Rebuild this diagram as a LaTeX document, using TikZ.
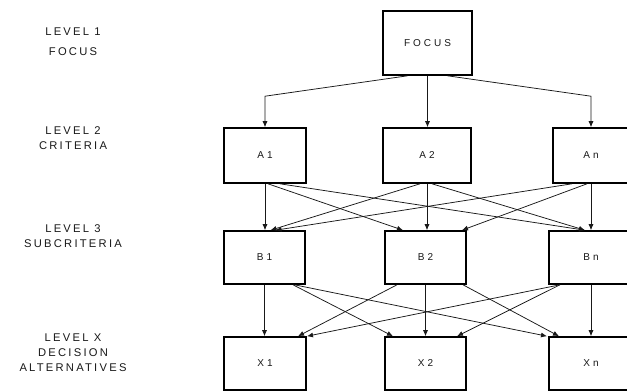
\documentclass[tikz,border=0pt]{standalone}
\usepackage{fontspec}
\setmainfont{Liberation Sans}
\newfontfamily\spacedlab[LetterSpace=20]{Liberation Sans}
\newfontfamily\spacedbox[LetterSpace=30]{Liberation Sans}
\usetikzlibrary{arrows.meta}
\begin{document}
\begin{tikzpicture}[x=1pt,y=-1pt,
  box/.style={draw=black, line width=1.6pt, minimum height=55pt, inner sep=0pt,
              font=\spacedbox\fontsize{10}{10}\selectfont, text=black!90},
  lab/.style={font=\spacedlab\fontsize{11.2}{15}\selectfont, align=center, text=black!90},
  arr/.style={-{Latex[length=6pt,width=5pt]}, line width=0.75pt, draw=black!90}]
\useasboundingbox[fill=white] (0,0) rectangle (627,391);

% left labels
\node[lab] (l1) at (73,42) {LEVEL 1\\[5pt]FOCUS};
\node[lab] (l2) at (73,138.5) {LEVEL 2\\CRITERIA};
\node[lab] (l3) at (73,236.5) {LEVEL 3\\SUBCRITERIA};
\node[lab] (lx) at (73,352.5) {LEVEL X\\DECISION\\ALTERNATIVES};

% boxes
\node[box, minimum width=89pt, minimum height=64pt] (F) at (427.5,43) {FOCUS};

\node[box, minimum width=82pt] (A1) at (265,155.5) {A1};
\node[box, minimum width=88pt] (A2) at (427,155.5) {A2};
\node[box, minimum width=76pt] (An) at (591,155.5) {An};

\node[box, minimum width=81pt, minimum height=53pt] (B1) at (264.5,257.5) {B1};
\node[box, minimum width=81pt, minimum height=53pt] (B2) at (425.5,257.5) {B2};
\node[box, minimum width=84pt, minimum height=53pt] (Bn) at (591,257.5) {Bn};

\node[box, minimum width=82pt, minimum height=53pt] (X1) at (265,363.5) {X1};
\node[box, minimum width=81pt, minimum height=53pt] (X2) at (425.5,363.5) {X2};
\node[box, minimum width=84pt, minimum height=53pt] (Xn) at (591,363.5) {Xn};

% level 1 -> 2
\draw[arr] ([xshift=-20pt]F.south) -- ([yshift=31pt]A1.north) -- (A1.north);
\draw[arr] (F.south) -- (F.south |- A2.north);
\draw[arr] ([xshift=20pt]F.south) -- ([yshift=31pt]An.north) -- (An.north);

% level 2 -> 3
\draw[arr] (A1.south) -- (A1.south |- B1.north);
\draw[arr] ([xshift=3pt]A1.south) -- ([xshift=-22.5pt]B2.north);
\draw[arr] ([xshift=15pt]A1.south) -- ([xshift=-6pt]Bn.north);
\draw[arr] (A2.south) -- (A2.south |- B2.north);
\draw[arr] ([xshift=-7pt]A2.south) -- ([xshift=6pt]B1.north);
\draw[arr] ([xshift=5pt]A2.south) -- ([xshift=-6pt]Bn.north);
\draw[arr] (An.south) -- (An.south |- Bn.north);
\draw[arr] ([xshift=-19pt]An.south) -- ([xshift=11pt]B1.north);
\draw[arr] ([xshift=-4pt]An.south) -- ([xshift=36.5pt]B2.north);

% level 3 -> X
\draw[arr] (B1.south) -- (B1.south |- X1.north);
\draw[arr] ([xshift=28.5pt]B1.south) -- ([xshift=-32.5pt]X2.north);
\draw[arr] ([xshift=30pt]B1.south) -- ([xshift=-44pt]Xn.north);
\draw[arr] (B2.south) -- (B2.south |- X2.north);
\draw[arr] ([xshift=-28.5pt]B2.south) -- ([xshift=33pt]X1.north);
\draw[arr] ([xshift=37.5pt]B2.south) -- ([xshift=-32pt]Xn.north);
\draw[arr] (Bn.south) -- (Bn.south |- Xn.north);
\draw[arr] ([xshift=-31pt]Bn.south) -- ([xshift=42pt]X1.north);
\draw[arr] ([xshift=-31pt]Bn.south) -- ([xshift=31.5pt]X2.north);
\end{tikzpicture}
\end{document}
